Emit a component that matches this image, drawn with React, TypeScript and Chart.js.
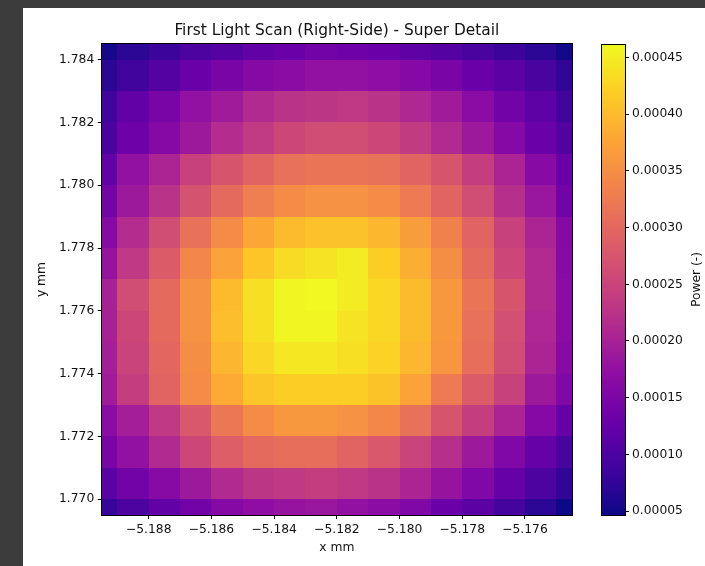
import React, { useEffect, useRef } from "react";
import { Chart, registerables } from "chart.js";

Chart.register(...registerables);

const chartTitle = "First Light Scan (Right-Side) - Super Detail";
const xLabel = "x mm";
const yLabel = "y mm";
const colorbarLabel = "Power (-)";

// cell centres
const xCenters = [-5.1895, -5.1885, -5.1875, -5.1865, -5.1855, -5.1845, -5.1835, -5.1825, -5.1815, -5.1805, -5.1795, -5.1785, -5.1775, -5.1765, -5.1755, -5.1745];
const yCenters = [1.7845, 1.7835, 1.7825, 1.7815, 1.7805, 1.7795, 1.7785, 1.7775, 1.7765, 1.7755, 1.7745, 1.7735, 1.7725, 1.7715, 1.7705, 1.7695];

const xTicks = [-5.188, -5.186, -5.184, -5.182, -5.18, -5.178, -5.176];
const yTicks = [1.77, 1.772, 1.774, 1.776, 1.778, 1.78, 1.782, 1.784];
const colorbarTicks = [0.00005, 0.0001, 0.00015, 0.0002, 0.00025, 0.0003, 0.00035, 0.0004, 0.00045];

// power per row (top row first), one value per x centre
const powerY17845 = [54.8e-6, 71.4e-6, 83.9e-6, 100.5e-6, 108.8e-6, 121.3e-6, 129.6e-6, 137.9e-6, 133.8e-6, 129.6e-6, 117.1e-6, 108.8e-6, 96.4e-6, 83.9e-6, 71.4e-6, 50.7e-6];
const powerY17835 = [71.4e-6, 88.1e-6, 108.8e-6, 129.6e-6, 146.2e-6, 158.7e-6, 167.0e-6, 175.3e-6, 175.3e-6, 171.2e-6, 158.7e-6, 146.2e-6, 129.6e-6, 113.0e-6, 96.4e-6, 75.6e-6];
const powerY17825 = [88.1e-6, 121.3e-6, 146.2e-6, 175.3e-6, 191.9e-6, 212.7e-6, 225.2e-6, 229.3e-6, 233.5e-6, 225.2e-6, 208.5e-6, 191.9e-6, 167.0e-6, 137.9e-6, 117.1e-6, 88.1e-6];
const powerY17815 = [96.4e-6, 133.8e-6, 158.7e-6, 187.8e-6, 216.9e-6, 237.6e-6, 254.3e-6, 262.6e-6, 262.6e-6, 254.3e-6, 237.6e-6, 212.7e-6, 187.8e-6, 158.7e-6, 129.6e-6, 104.7e-6];
const powerY17805 = [121.3e-6, 175.3e-6, 204.4e-6, 245.9e-6, 275.0e-6, 295.8e-6, 312.4e-6, 316.6e-6, 316.6e-6, 312.4e-6, 295.8e-6, 275.0e-6, 241.8e-6, 204.4e-6, 162.8e-6, 129.6e-6];
const powerY17795 = [142.1e-6, 187.8e-6, 225.2e-6, 270.9e-6, 304.1e-6, 329.0e-6, 345.7e-6, 354.0e-6, 354.0e-6, 345.7e-6, 324.9e-6, 295.8e-6, 262.6e-6, 221.0e-6, 183.6e-6, 137.9e-6];
const powerY17785 = [162.8e-6, 216.9e-6, 262.6e-6, 312.4e-6, 345.7e-6, 378.9e-6, 399.7e-6, 408.0e-6, 408.0e-6, 395.5e-6, 366.4e-6, 333.2e-6, 295.8e-6, 245.9e-6, 204.4e-6, 158.7e-6];
const powerY17775 = [179.5e-6, 233.5e-6, 283.3e-6, 341.5e-6, 374.7e-6, 412.1e-6, 432.9e-6, 441.2e-6, 449.5e-6, 420.5e-6, 387.2e-6, 349.8e-6, 304.1e-6, 254.3e-6, 212.7e-6, 162.8e-6];
const powerY17765 = [200.2e-6, 262.6e-6, 304.1e-6, 354.0e-6, 399.7e-6, 437.1e-6, 457.8e-6, 462.0e-6, 449.5e-6, 428.8e-6, 399.7e-6, 362.3e-6, 316.6e-6, 275.0e-6, 212.7e-6, 167.0e-6];
const powerY17755 = [200.2e-6, 254.3e-6, 304.1e-6, 354.0e-6, 403.8e-6, 437.1e-6, 457.8e-6, 457.8e-6, 441.2e-6, 428.8e-6, 399.7e-6, 362.3e-6, 312.4e-6, 266.7e-6, 208.5e-6, 167.0e-6];
const powerY17745 = [196.1e-6, 250.1e-6, 300.0e-6, 349.8e-6, 395.5e-6, 428.8e-6, 445.4e-6, 445.4e-6, 437.1e-6, 424.6e-6, 395.5e-6, 358.1e-6, 308.3e-6, 262.6e-6, 204.4e-6, 162.8e-6];
const powerY17735 = [191.9e-6, 241.8e-6, 295.8e-6, 345.7e-6, 383.1e-6, 412.1e-6, 420.5e-6, 420.5e-6, 420.5e-6, 408.0e-6, 374.7e-6, 324.9e-6, 283.3e-6, 245.9e-6, 187.8e-6, 154.5e-6];
const powerY17725 = [167.0e-6, 196.1e-6, 233.5e-6, 279.2e-6, 320.7e-6, 345.7e-6, 362.3e-6, 362.3e-6, 354.0e-6, 341.5e-6, 312.4e-6, 275.0e-6, 241.8e-6, 204.4e-6, 158.7e-6, 125.4e-6];
const powerY17715 = [146.2e-6, 175.3e-6, 212.7e-6, 254.3e-6, 287.5e-6, 304.1e-6, 308.3e-6, 308.3e-6, 295.8e-6, 279.2e-6, 250.1e-6, 221.0e-6, 187.8e-6, 154.5e-6, 125.4e-6, 96.4e-6];
const powerY17705 = [113.0e-6, 137.9e-6, 162.8e-6, 187.8e-6, 212.7e-6, 229.3e-6, 233.5e-6, 241.8e-6, 233.5e-6, 225.2e-6, 204.4e-6, 179.5e-6, 154.5e-6, 125.4e-6, 100.5e-6, 75.6e-6];
const powerY17695 = [79.7e-6, 100.5e-6, 121.3e-6, 137.9e-6, 158.7e-6, 171.2e-6, 179.5e-6, 183.6e-6, 175.3e-6, 167.0e-6, 154.5e-6, 129.6e-6, 113.0e-6, 92.2e-6, 71.4e-6, 46.5e-6];

const powerRows = [
  powerY17845, powerY17835, powerY17825, powerY17815,
  powerY17805, powerY17795, powerY17785, powerY17775,
  powerY17765, powerY17755, powerY17745, powerY17735,
  powerY17725, powerY17715, powerY17705, powerY17695,
];

const plasmaStops = ["#0d0887", "#41049d", "#6a00a8", "#8f0da4", "#b12a90", "#cc4778", "#e16462", "#f2844b", "#fca636", "#fcce25", "#f0f921"];

function hexToRgb(h: string): number[] {
  return [parseInt(h.slice(1, 3), 16), parseInt(h.slice(3, 5), 16), parseInt(h.slice(5, 7), 16)];
}
const plasmaRgb = plasmaStops.map(hexToRgb);

function plasma(t: number): string {
  const tt = Math.max(0, Math.min(1, t));
  const n = plasmaRgb.length - 1;
  const f = tt * n;
  const i = Math.min(n - 1, Math.floor(f));
  const u = f - i;
  const a = plasmaRgb[i];
  const b = plasmaRgb[i + 1];
  const c = a.map((v, k) => Math.round(v + (b[k] - v) * u));
  return `rgb(${c[0]},${c[1]},${c[2]})`;
}

const FONT = "'DejaVu Sans', 'Liberation Sans', sans-serif";
const TEXT = "#111";
const TICK_SIZE = 12.3;

function fmtMinus(v: number, digits: number): string {
  return Number(v).toFixed(digits).replace("-", "\u2212");
}

export default function App() {
  const mainRef = useRef<HTMLCanvasElement>(null);
  const cbRef = useRef<HTMLCanvasElement>(null);

  useEffect(() => {
    const all = powerRows.flat();
    const vmin = Math.min(...all);
    const vmax = Math.max(...all);

    const heatmapPlugin = {
      id: "heatmap",
      beforeDatasetsDraw(chart: any) {
        const { ctx, chartArea, scales } = chart;
        const xs = scales.x;
        const ys = scales.y;
        const dx = Math.abs(xCenters[1] - xCenters[0]);
        const dy = Math.abs(yCenters[1] - yCenters[0]);
        ctx.save();
        ctx.beginPath();
        ctx.rect(chartArea.left, chartArea.top, chartArea.right - chartArea.left, chartArea.bottom - chartArea.top);
        ctx.clip();
        powerRows.forEach((row, r) => {
          row.forEach((v, c) => {
            const x0 = Math.round(xs.getPixelForValue(xCenters[c] - dx / 2));
            const x1 = Math.round(xs.getPixelForValue(xCenters[c] + dx / 2));
            const y0 = Math.round(ys.getPixelForValue(yCenters[r] + dy / 2));
            const y1 = Math.round(ys.getPixelForValue(yCenters[r] - dy / 2));
            ctx.fillStyle = plasma((v - vmin) / (vmax - vmin));
            ctx.fillRect(x0, y0, x1 - x0, y1 - y0);
          });
        });
        ctx.restore();
      },
      afterDraw(chart: any) {
        const { ctx, chartArea } = chart;
        ctx.save();
        ctx.strokeStyle = "#000";
        ctx.lineWidth = 1;
        const l = Math.floor(chartArea.left) + 0.5;
        const t = Math.floor(chartArea.top) + 0.5;
        const r = Math.floor(chartArea.right) + 0.5;
        const b = Math.floor(chartArea.bottom) + 0.5;
        ctx.strokeRect(l, t, r - l, b - t);
        ctx.restore();
      },
    };

    const axisGrid = {
      display: true,
      drawOnChartArea: false,
      drawTicks: true,
      tickLength: 4,
      color: "#000",
      tickColor: "#000",
      lineWidth: 1,
    };

    const main = new Chart(mainRef.current as HTMLCanvasElement, {
      type: "scatter",
      data: { datasets: [] },
      plugins: [heatmapPlugin],
      options: {
        responsive: false,
        animation: false,
        devicePixelRatio: 1,
        layout: { padding: { left: 30, right: 133, top: 0, bottom: 7 } },
        plugins: {
          legend: { display: false },
          tooltip: { enabled: false },
          title: {
            display: true,
            text: chartTitle,
            fullSize: false,
            color: TEXT,
            font: { family: FONT, size: 15.4, weight: "normal" },
            padding: { top: 22.2, bottom: 3.3 },
          },
        },
        scales: {
          x: {
            type: "linear",
            min: xCenters[0],
            max: xCenters[xCenters.length - 1],
            afterBuildTicks: (s: any) => {
              s.ticks = xTicks.map((v) => ({ value: v }));
            },
            afterFit: (s: any) => {
              s.height = 44;
            },
            ticks: {
              color: TEXT,
              padding: 3,
              maxRotation: 0,
              autoSkip: false,
              font: { family: FONT, size: TICK_SIZE },
              callback: (v: any) => fmtMinus(v, 3),
            },
            grid: axisGrid,
            border: { display: false },
            title: {
              display: true,
              text: xLabel,
              color: TEXT,
              font: { family: FONT, size: TICK_SIZE },
              padding: { top: 0, bottom: 4 },
            },
          },
          y: {
            type: "linear",
            min: yCenters[yCenters.length - 1],
            max: yCenters[0],
            afterBuildTicks: (s: any) => {
              s.ticks = yTicks.map((v) => ({ value: v }));
            },
            afterFit: (s: any) => {
              s.width = 71.7;
            },
            ticks: {
              color: TEXT,
              padding: 3.5,
              autoSkip: false,
              font: { family: FONT, size: TICK_SIZE },
              callback: (v: any) => fmtMinus(v, 3),
            },
            grid: axisGrid,
            border: { display: false },
            title: {
              display: true,
              text: yLabel,
              color: TEXT,
              font: { family: FONT, size: TICK_SIZE },
              padding: { top: 4, bottom: 4 },
            },
          },
        },
      },
    } as any);

    const colorbarPlugin = {
      id: "colorbar",
      beforeDatasetsDraw(chart: any) {
        const { ctx, chartArea, scales } = chart;
        const ys = scales.y;
        const yBottom = ys.getPixelForValue(vmin);
        const yTop = ys.getPixelForValue(vmax);
        const g = ctx.createLinearGradient(0, yBottom, 0, yTop);
        plasmaStops.forEach((col, i) => g.addColorStop(i / (plasmaStops.length - 1), col));
        ctx.save();
        ctx.fillStyle = g;
        ctx.fillRect(chartArea.left, chartArea.top, chartArea.right - chartArea.left, chartArea.bottom - chartArea.top);
        ctx.restore();
      },
      afterDraw(chart: any) {
        const { ctx, chartArea } = chart;
        ctx.save();
        ctx.strokeStyle = "#000";
        ctx.lineWidth = 1;
        const l = Math.floor(chartArea.left) + 0.5;
        const t = Math.floor(chartArea.top) + 0.5;
        const r = Math.floor(chartArea.right) + 0.5;
        const b = Math.floor(chartArea.bottom) + 0.5;
        ctx.strokeRect(l, t, r - l, b - t);
        // colorbar label, reading bottom-to-top like matplotlib
        ctx.translate(697, (chartArea.top + chartArea.bottom) / 2);
        ctx.rotate(-Math.PI / 2);
        ctx.fillStyle = TEXT;
        ctx.font = `${TICK_SIZE}px ${FONT}`;
        ctx.textAlign = "center";
        ctx.textBaseline = "middle";
        ctx.fillText(colorbarLabel, 0, 0);
        ctx.restore();
      },
    };

    const cb = new Chart(cbRef.current as HTMLCanvasElement, {
      type: "scatter",
      data: { datasets: [] },
      plugins: [colorbarPlugin],
      options: {
        responsive: false,
        animation: false,
        devicePixelRatio: 1,
        layout: { padding: { left: 601, right: 0, top: 44, bottom: 51 } },
        plugins: {
          legend: { display: false },
          tooltip: { enabled: false },
          title: { display: false },
        },
        scales: {
          x: { type: "linear", display: false, min: 0, max: 1 },
          y: {
            type: "linear",
            position: "right",
            min: vmin,
            max: vmax,
            afterBuildTicks: (s: any) => {
              s.ticks = colorbarTicks.map((v) => ({ value: v }));
            },
            afterFit: (s: any) => {
              s.width = 80;
            },
            ticks: {
              color: TEXT,
              padding: 3,
              autoSkip: false,
              font: { family: FONT, size: TICK_SIZE },
              callback: (v: any) => Number(v).toFixed(5),
            },
            grid: axisGrid,
            border: { display: false },
          },
        },
      },
    } as any);

    return () => {
      main.destroy();
      cb.destroy();
    };
  }, []);

  return (
    <div style={{ position: "relative", width: 705, height: 566, background: "#3c3c3c", overflow: "hidden" }}>
      <style>{"html,body{margin:0;padding:0;background:#3c3c3c;overflow:hidden}"}</style>
      <div style={{ position: "absolute", left: 23, top: 8, right: 0, bottom: 0, background: "#ffffff" }} />
      <canvas ref={mainRef} width={705} height={566} style={{ position: "absolute", left: 0, top: 0 }} />
      <canvas ref={cbRef} width={705} height={566} style={{ position: "absolute", left: 0, top: 0 }} />
    </div>
  );
}
